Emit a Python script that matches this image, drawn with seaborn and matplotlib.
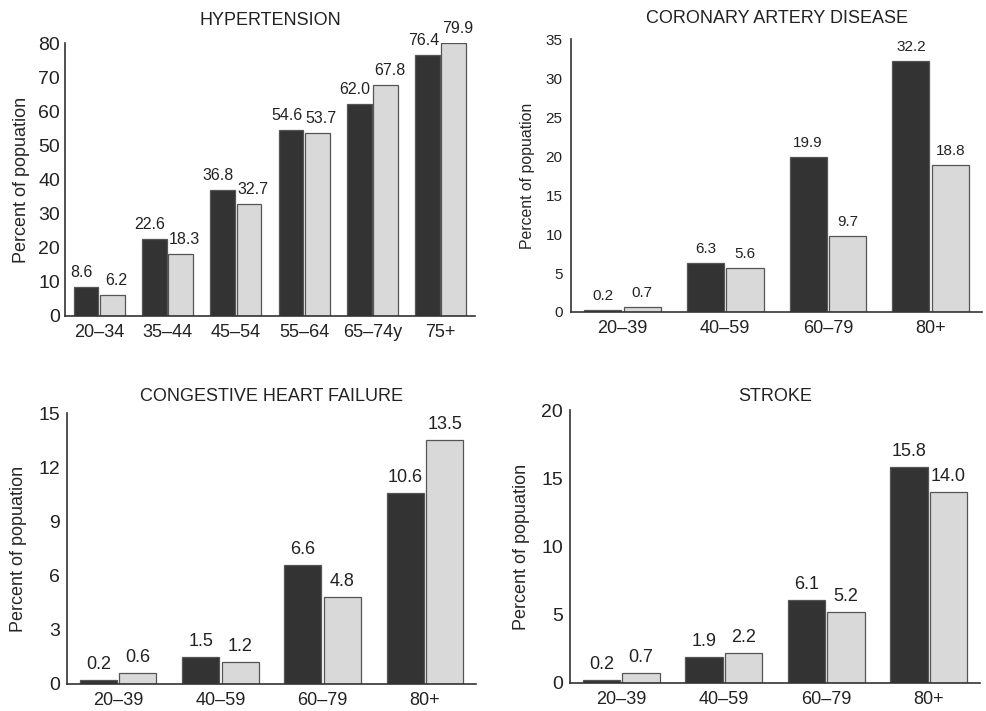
import numpy as np
import pandas as pd
import matplotlib
matplotlib.use("Agg")
import matplotlib.pyplot as plt
import seaborn as sns

# dados
hyp_groups = ["20–34", "35–44", "45–54", "55–64", "65–74y", "75+"]
hyp_dark = [8.6, 22.6, 36.8, 54.6, 62.0, 76.4]
hyp_light = [6.2, 18.3, 32.7, 53.7, 67.8, 79.9]

age_groups = ["20–39", "40–59", "60–79", "80+"]
cad_dark = [0.2, 6.3, 19.9, 32.2]
cad_light = [0.7, 5.6, 9.7, 18.8]
chf_dark = [0.2, 1.5, 6.6, 10.6]
chf_light = [0.6, 1.2, 4.8, 13.5]
stroke_dark = [0.2, 1.9, 6.1, 15.8]
stroke_light = [0.7, 2.2, 5.2, 14.0]

series = ["Men", "Women"]

sns.set_style("white")
plt.rcParams["font.family"] = ["Liberation Sans", "DejaVu Sans"]
plt.rcParams["text.color"] = "#222222"
plt.rcParams["xtick.color"] = "#222222"
plt.rcParams["ytick.color"] = "#222222"

fig = plt.figure(figsize=(9.87, 7.11), dpi=100)

# titulo, grupos, escuro, claro, passo, ymax, posicao, fonte ytick, fonte ylabel,
# fonte anotacao, pad titulo, labelpad, pad ytick, deslocamento dos rotulos
paineis = [
    ("HYPERTENSION", hyp_groups, hyp_dark, hyp_light, 10, 80,
     [0.0659, 0.5556, 0.4151, 0.3839], 14, 13, 11.5, 13, 6, 3.5, 3),
    ("CORONARY ARTERY DISEASE", age_groups, cad_dark, cad_light, 5, 35,
     [0.5785, 0.5612, 0.4165, 0.3838], 11, 11.4, 11, 11.5, 8, 6, 0),
    ("CONGESTIVE HEART FAILURE", age_groups, chf_dark, chf_light, 3, 15,
     [0.0679, 0.0380, 0.4144, 0.3811], 14, 13, 13, 9, 8, 5, 0),
    ("STROKE", age_groups, stroke_dark, stroke_light, 5, 20,
     [0.5775, 0.0394, 0.4154, 0.3839], 14, 13, 13, 6.5, 8, 5, 0),
]

for (titulo, grupos, escuro, claro, passo, ymax, pos, ytick_fs, ylab_fs,
     ann_fs, tpad, lpad, ypad, desloc) in paineis:
    ax = fig.add_axes(pos)
    df = pd.DataFrame({
        "Grupo": grupos * 2,
        "Serie": [series[0]] * len(grupos) + [series[1]] * len(grupos),
        "Valor": escuro + claro,
    })
    sns.barplot(data=df, x="Grupo", y="Valor", hue="Serie",
                palette=["#333333", "#d9d9d9"], width=0.77, gap=0.06,
                edgecolor="#555555", linewidth=0.9, legend=False, ax=ax)
    for k, cont in enumerate(ax.containers):
        textos = ax.bar_label(cont, fmt="%.1f", padding=5, fontsize=ann_fs, color="#222222")
        dx = -desloc if k == 0 else desloc
        for t in textos:
            t.xyann = (dx, 5)

    n = len(grupos)
    ax.set_xlim(-0.5, n - 0.5)
    ax.set_ylim(0, ymax)
    ax.set_yticks(np.arange(0, ymax + 0.1, passo))
    ax.set_xticks(np.arange(n))
    ax.set_xticks(np.arange(-0.5, n), minor=True)
    ax.tick_params(axis="x", which="major", length=0, pad=6, labelsize=13)
    ax.tick_params(axis="x", which="minor", length=5, direction="in", width=1.2, color="#333333")
    ax.tick_params(axis="y", length=6, direction="in", width=1.2, color="#333333",
                   labelsize=ytick_fs, pad=ypad)
    sns.despine(ax=ax)
    for s in ["left", "bottom"]:
        ax.spines[s].set_linewidth(1.2)
        ax.spines[s].set_color("#333333")
    ax.set_xlabel("")
    ax.set_ylabel("Percent of popuation", fontsize=ylab_fs, labelpad=lpad)
    ax.set_title(titulo, fontsize=13, pad=tpad)

fig.savefig("out.png", dpi=100)
